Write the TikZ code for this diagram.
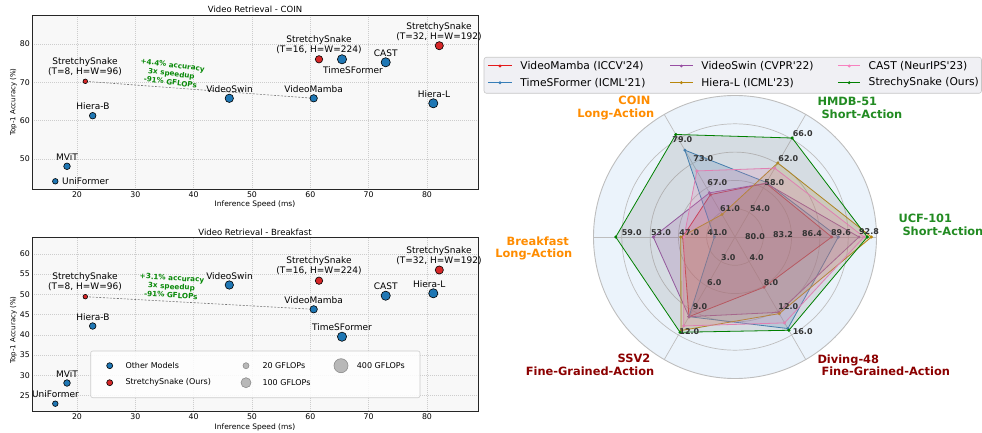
\documentclass[tikz,border=0pt]{standalone}
\usepackage{fontspec}
\setmainfont{DejaVu Sans}[Ligatures=TeXOff]
\usetikzlibrary{calc}
\definecolor{tabblue}{HTML}{1F77B4}
\definecolor{tabred}{HTML}{D62728}
\definecolor{rRed}{HTML}{E41A1C}
\definecolor{rBlue}{HTML}{377EB8}
\definecolor{rPurple}{HTML}{984EA3}
\definecolor{rGold}{HTML}{B8860B}
\definecolor{rPink}{HTML}{F781BF}
\definecolor{rGreen}{HTML}{008000}
\definecolor{annGreen}{HTML}{0A8A0A}
\definecolor{radarbg}{RGB}{235,243,251}
\definecolor{ringc}{RGB}{190,190,190}
\definecolor{gridc}{RGB}{205,205,205}
\definecolor{axbg}{RGB}{248,248,248}
\definecolor{lblOrange}{HTML}{FF8C00}
\definecolor{lblGreen}{HTML}{228B22}
\definecolor{lblRed}{HTML}{8B0000}
\definecolor{legbg}{RGB}{240,240,244}
\newcommand\myfs[1]{\fontsize{#1}{#1}\selectfont}
\newcommand\radarpoly[8]{%
  \filldraw[draw=#1,fill=#2,fill opacity=0.2,line width=0.8pt]
    ([shift={(0:#3pt)}]ctr) -- ([shift={(60:#4pt)}]ctr) -- ([shift={(120:#5pt)}]ctr) --
    ([shift={(180:#6pt)}]ctr) -- ([shift={(240:#7pt)}]ctr) -- ([shift={(300:#8pt)}]ctr) -- cycle;
  \foreach \a/\r in {0/#3,60/#4,120/#5,180/#6,240/#7,300/#8}
    \fill[#1] ([shift={(\a:\r pt)}]ctr) circle (1.7pt);
}
\begin{document}
\begin{tikzpicture}[x=1pt,y=-1pt,
  bpt/.style={circle,draw=black,line width=0.6pt,fill=tabblue,inner sep=0pt,minimum size=#1},
  rpt/.style={circle,draw=black,line width=0.6pt,fill=tabred,inner sep=0pt,minimum size=#1},
  gpt/.style={circle,draw=black!45,line width=0.6pt,fill=black!28,inner sep=0pt,minimum size=#1},
  plab/.style={font=\fontsize{9}{10.2}\selectfont,inner sep=0pt,align=center},
  tickl/.style={font=\myfs{7.8},inner sep=0pt},
  titl/.style={font=\myfs{8.5},inner sep=0pt},
  axl/.style={font=\myfs{7.5},inner sep=0pt},
  gridl/.style={gridc,line width=0.5pt,dash pattern=on 1pt off 1pt},
  dashl/.style={black!55,line width=0.6pt,dash pattern=on 2pt off 1.5pt},
  ann/.style={font=\bfseries\fontsize{7.2}{8.6}\selectfont,text=annGreen,align=center,inner sep=0pt},
  legt/.style={font=\myfs{8},inner sep=0pt,anchor=west},
  rtick/.style={font=\bfseries\myfs{8},text=black!80,inner sep=0pt},
  alab/.style={font=\bfseries\fontsize{11.4}{12.4}\selectfont,inner sep=0pt},
  rleg/.style={font=\fontsize{10.7}{10.7}\selectfont,inner sep=0pt,anchor=west},
]
\useasboundingbox (0,0) rectangle (982,433);

% ================= TOP SCATTER (COIN) =================
\fill[axbg] (32,15) rectangle (478,189);
\foreach \v in {20,30,...,80}{
  \draw[gridl] ({77+(\v-20)*5.833},15) -- ({77+(\v-20)*5.833},189);
  \node[tickl] (tx\v) at ({77+(\v-20)*5.833},194.5) {\v};
}
\foreach \v in {50,60,70,80}{
  \draw[gridl] (32,{44-(\v-80)*3.833}) -- (478,{44-(\v-80)*3.833});
  \node[tickl,anchor=east] (ty\v) at (30,{44-(\v-80)*3.833}) {\v};
}
\draw[line width=0.9pt,black!85] (32,15) rectangle (478,189);
\node[titl] (title1) at (255,9.5) {Video Retrieval - COIN};
\node[axl] (xl1) at (255,204.5) {Inference Speed (ms)};
\node[font=\myfs{7},inner sep=0pt,rotate=90] (yl1) at (13.5,102) {Top-1 Accuracy (\%)};

\coordinate (a-ss8) at (85.3,81.3);
\coordinate (a-vm) at (313.7,98.3);
\draw[dashl] (a-ss8) -- (a-vm);
\node[rpt=4.6pt] (ass8) at (a-ss8) {};
\node[bpt=6.6pt] (ahierab) at (92.7,115.7) {};
\node[bpt=6.6pt] (amvit) at (67,166.3) {};
\node[bpt=5.6pt] (aunif) at (55.3,181.3) {};
\node[bpt=8.4pt] (avswin) at (229.3,98.3) {};
\node[bpt=7.4pt] (avmamba) at (a-vm) {};
\node[rpt=7.4pt] (ass16) at (319,59.3) {};
\node[bpt=9.2pt] (atsf) at (342,59.3) {};
\node[bpt=9.2pt] (acast) at (385.7,62.3) {};
\node[rpt=8.2pt] (ass32) at (439.3,45.7) {};
\node[bpt=9.2pt] (ahieral) at (433.3,103.3) {};

\node[plab] (lass8) at (85,67) {StretchySnake\\(T=8, H=W=96)};
\node[plab] (lahierab) at (93,106) {Hiera-B};
\node[plab] (lamvit) at (67,157) {MViT};
\node[plab,anchor=west] (launif) at (62,181.3) {UniFormer};
\node[plab] (lavswin) at (229.5,89) {VideoSwin};
\node[plab] (lavmamba) at (313.7,88.7) {VideoMamba};
\node[plab] (lass16) at (319,45) {StretchySnake\\(T=16, H=W=224)};
\node[plab] (latsf) at (353,70) {TimeSFormer};
\node[plab] (lacast) at (385.7,53) {CAST};
\node[plab] (lass32) at (439,31.5) {StretchySnake\\(T=32, H=W=192)};
\node[plab] (lahieral) at (434,94) {Hiera-L};
\node[ann,rotate=-7.5] (aann) at (171.5,73.5) {+4.4\% accuracy\\3x speedup\\-91\% GFLOPs};

% ================= BOTTOM SCATTER (Breakfast) =================
\fill[axbg] (32,237.7) rectangle (478,411.7);
\foreach \v in {20,30,...,80}{
  \draw[gridl] ({77+(\v-20)*5.833},237.7) -- ({77+(\v-20)*5.833},411.7);
  \node[tickl] (bx\v) at ({77+(\v-20)*5.833},417) {\v};
}
\foreach \v in {25,30,...,60}{
  \draw[gridl] (32,{254-(\v-60)*4.04}) -- (478,{254-(\v-60)*4.04});
  \node[tickl,anchor=east] (by\v) at (30,{254-(\v-60)*4.04}) {\v};
}
\draw[line width=0.9pt,black!85] (32,237.7) rectangle (478,411.7);
\node[titl] (title2) at (255,232) {Video Retrieval - Breakfast};
\node[axl] (xl2) at (255,427) {Inference Speed (ms)};
\node[font=\myfs{7},inner sep=0pt,rotate=90] (yl2) at (13.5,330) {Top-1 Accuracy (\%)};

\coordinate (b-ss8) at (85.3,296.7);
\coordinate (b-vm) at (313.7,309.3);
\draw[dashl] (b-ss8) -- (b-vm);
\node[rpt=4.6pt] (bss8) at (b-ss8) {};
\node[bpt=6.6pt] (bhierab) at (92.7,326) {};
\node[bpt=6.6pt] (bmvit) at (67,383) {};
\node[bpt=5.6pt] (bunif) at (55.3,403.7) {};
\node[bpt=8.4pt] (bvswin) at (229.3,285) {};
\node[bpt=7.4pt] (bvmamba) at (b-vm) {};
\node[rpt=7.4pt] (bss16) at (319,280.7) {};
\node[bpt=9.2pt] (btsf) at (342,336.7) {};
\node[bpt=9.2pt] (bcast) at (385.7,295.7) {};
\node[rpt=8.2pt] (bss32) at (439.3,270) {};
\node[bpt=9.2pt] (bhieral) at (433.3,293.3) {};

\node[plab] (lbss8) at (85,281.7) {StretchySnake\\(T=8, H=W=96)};
\node[plab] (lbhierab) at (93,316.7) {Hiera-B};
\node[plab] (lbmvit) at (67,374.3) {MViT};
\node[plab] (lbunif) at (55.5,394.3) {UniFormer};
\node[plab] (lbvswin) at (229.5,276) {VideoSwin};
\node[plab] (lbvmamba) at (313.7,299.7) {VideoMamba};
\node[plab] (lbss16) at (319,265.7) {StretchySnake\\(T=16, H=W=224)};
\node[plab] (lbtsf) at (342,327.3) {TimeSFormer};
\node[plab] (lbcast) at (385.7,286) {CAST};
\node[plab] (lbss32) at (439,255.7) {StretchySnake\\(T=32, H=W=192)};
\node[plab] (lbhieral) at (429.3,284) {Hiera-L};
\node[ann,rotate=-3.5] (bann) at (171.5,286.5) {+3.1\% accuracy\\3x speedup\\-91\% GFLOPs};

% legend of bottom scatter
\draw[rounded corners=2pt,fill=white,fill opacity=0.85,draw=black!20,line width=0.6pt] (90.7,351) rectangle (420,397.7);
\node[bpt=6pt] (lgb) at (109.7,365.7) {};
\node[rpt=6pt] (lgr) at (109.7,382.7) {};
\node[legt] (lgbt) at (125.3,365.7) {Other Models};
\node[legt] (lgrt) at (125.3,382.7) {StretchySnake (Ours)};
\node[gpt=6pt] (lg20) at (246,365.7) {};
\node[gpt=10pt] (lg100) at (246,382.7) {};
\node[gpt=14pt] (lg400) at (341,365.7) {};
\node[legt] (lg20t) at (262.3,365.7) {20 GFLOPs};
\node[legt] (lg100t) at (262.3,382.7) {100 GFLOPs};
\node[legt] (lg400t) at (356.7,365.7) {400 GFLOPs};

% ================= RADAR =================
\coordinate (ctr) at (735,237);
\fill[radarbg] (ctr) circle (141.5pt);
\foreach \r in {28.3,56.6,84.9,113.2}
  \draw[ringc,line width=0.7pt] (ctr) circle (\r pt);
\foreach \a in {0,60,...,300}
  \draw[ringc,line width=0.7pt] (ctr) -- ([shift={(\a:141.5pt)}]ctr);
\draw[ringc,line width=0.9pt] (ctr) circle (141.5pt);

% order: UCF(0), HMDB(60), COIN(120), Breakfast(180), SSV2(240), Diving(300)
\radarpoly{rRed}{rRed}{96.7}{62}{49}{52.3}{92}{58}
\radarpoly{rBlue}{rBlue}{103.3}{63}{100.3}{20.7}{92}{105.7}
\radarpoly{rPurple}{rPurple}{124}{62}{51}{81.7}{92}{87}
\radarpoly{rGold}{rGold}{136.5}{85.5}{26}{54.3}{108}{88.5}
\radarpoly{rPink}{rPink}{129}{79.5}{76.3}{51}{102.7}{99.2}
\radarpoly{rGreen}{gray}{132.3}{114.3}{118.4}{119.3}{110}{107.7}

% tick labels
\node[rtick] (u1) at (755,236.5) {80.0};
\node[rtick] (u2) at (783,235) {83.2};
\node[rtick] (u3) at (812,234) {86.4};
\node[rtick] (u4) at (841,232.7) {89.6};
\node[rtick] (u5) at (869,231.7) {92.8};
\node[rtick] (h1) at (760,208.3) {54.0};
\node[rtick] (h2) at (774.3,182.7) {58.0};
\node[rtick] (h3) at (788.3,158.7) {62.0};
\node[rtick] (h4) at (802.7,134) {66.0};
\node[rtick] (c1) at (730,208.3) {61.0};
\node[rtick] (c2) at (717.3,182.7) {67.0};
\node[rtick] (c3) at (703.3,158.7) {73.0};
\node[rtick] (c4) at (682.3,140) {79.0};
\node[rtick] (k1) at (717.3,232.7) {41.0};
\node[rtick] (k2) at (689.3,232.7) {47.0};
\node[rtick] (k3) at (661,232.7) {53.0};
\node[rtick] (k4) at (631.7,232.7) {59.0};
\node[rtick] (s1) at (728.3,257.5) {3.0};
\node[rtick] (s2) at (714.3,282.3) {6.0};
\node[rtick] (s3) at (700,306.7) {9.0};
\node[rtick] (s4) at (689.3,331.7) {12.0};
\node[rtick] (d1) at (756.7,257.5) {4.0};
\node[rtick] (d2) at (771,282.5) {8.0};
\node[rtick] (d3) at (788.3,306.7) {12.0};
\node[rtick] (d4) at (802.7,331.7) {16.0};

% axis labels
\node[alab,text=lblOrange,align=right,anchor=east] (lcoin) at (654.5,107.9) {COIN\hspace*{4pt}\\Long-Action};
\node[alab,text=lblOrange,align=right,anchor=east] (lbreak) at (572.5,248.3) {Breakfast\hspace*{3.5pt}\\Long-Action};
\node[alab,text=lblGreen,align=left,anchor=west] (lhmdb) at (817.3,107.9) {HMDB-51\\\hspace*{4pt}Short-Action};
\node[alab,text=lblGreen,align=left,anchor=west] (lucf) at (898.3,224.7) {UCF-101\\\hspace*{4pt}Short-Action};
\node[alab,text=lblRed,align=right,anchor=east] (lssv) at (654.5,365) {SSV2\hspace*{4pt}\\Fine-Grained-Action};
\node[alab,text=lblRed,align=left,anchor=west] (ldiv) at (817.3,365) {Diving-48\\\hspace*{4pt}Fine-Grained-Action};

% radar legend
\draw[rounded corners=2.5pt,fill=legbg,draw=black!22,line width=0.6pt] (484,57.3) rectangle (981.5,93.3);
\foreach \nm/\col/\xa/\xb/\yy/\txt in {
  m1/rRed/488.3/511.7/66/{VideoMamba (ICCV'24)},
  m2/rBlue/488.3/511.7/82.7/{TimeSFormer (ICML'21)},
  m3/rPurple/670/692.7/66/{VideoSwin (CVPR'22)},
  m4/rGold/670/692.7/82.7/{Hiera-L (ICML'23)},
  m5/rPink/838.3/860/66/{CAST (NeurIPS'23)},
  m6/rGreen/838.3/860/82.7/{StrechySnake (Ours)}}{
  \coordinate (\nm a) at (\xa,\yy);
  \coordinate (\nm b) at (\xb,\yy);
  \draw[\col,line width=1pt] (\nm a) -- (\nm b);
  \fill[\col] ($(\nm a)!0.5!(\nm b)$) circle (1.6pt);
  \node[rleg] (\nm t) at ({\xb+8.5},\yy) {\txt};
}
\end{tikzpicture}
\end{document}
